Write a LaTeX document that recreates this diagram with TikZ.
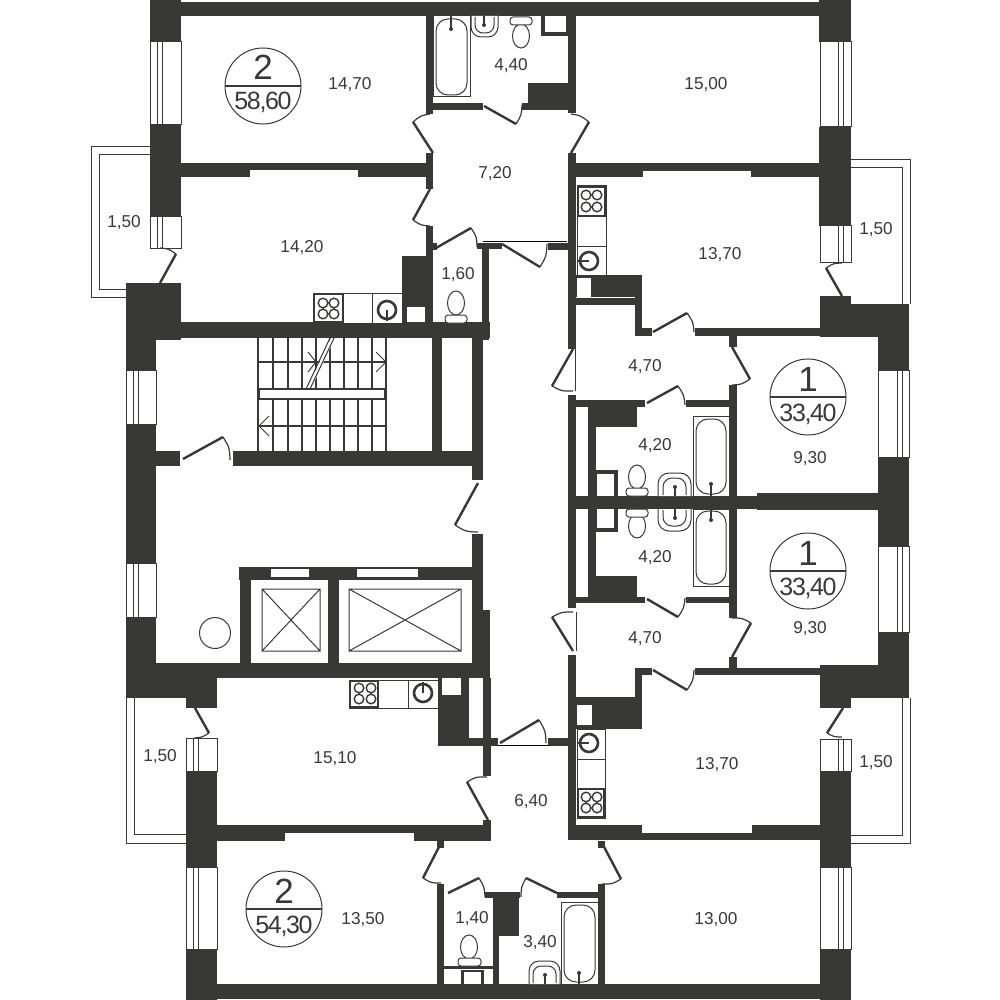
\documentclass[tikz,border=0pt]{standalone}
\usepackage{fontspec}
\setmainfont{Liberation Sans}
\usetikzlibrary{calc}
\definecolor{wallc}{HTML}{383836}
\newcommand{\doorfan}[3]{
  \draw[leaf] (#1) -- (#2);
  \draw[swing] (#2) .. controls ($(#1)!1.07!($(#2)!.5!(#3)$)$) .. (#3);
}

\begin{document}
\begin{tikzpicture}[x=1pt,y=-1pt,
  wall/.style={fill=wallc},
  frame/.style={draw=wallc,line width=1pt},
  fix/.style={draw=wallc,line width=1pt,fill=white},
  tread/.style={draw=wallc,line width=1.2pt},
  leaf/.style={draw=wallc,line width=2.4pt},
  swing/.style={draw=wallc,line width=1.2pt},
  rail/.style={draw=wallc,line width=1pt},
  hob/.style={draw=wallc,line width=1.4pt},
  sink/.style={draw=wallc,line width=2.6pt},
  area/.style={text=wallc,font=\fontsize{17.2}{17.2}\selectfont,inner sep=0pt,anchor=base},
  flatno/.style={text=wallc,font=\fontsize{35}{35}\selectfont,inner sep=0pt,anchor=base},
  flatsum/.style={text=wallc,font=\fontsize{25}{25}\addfontfeatures{LetterSpace=-5.5}\selectfont,inner sep=0pt,anchor=base}]

\useasboundingbox (0,0) rectangle (1000,1000);

% balconies
\draw[rail] (150,147) -- (91,147) -- (91,297) -- (126,297);
\draw[rail] (150,155) -- (99,155) -- (99,289) -- (126,289);
\draw[rail] (851,160) -- (910,160) -- (910,304);
\draw[rail] (851,168) -- (902,168) -- (902,304);
\draw[rail] (126,698) -- (126,843) -- (186,843);
\draw[rail] (134,698) -- (134,834) -- (186,834);
\draw[rail] (910,698) -- (910,843) -- (851,843);
\draw[rail] (902,698) -- (902,835) -- (851,835);

% outer walls
\fill[wall] (150,2) rectangle (851,16);
\fill[wall] (150,0) rectangle (181,42);
\fill[wall] (150,125) rectangle (181,217);
\fill[wall] (126,283) rectangle (181,340);
\fill[wall] (126,322) rectangle (490,338);
\fill[wall] (126,283) rectangle (156,370);
\fill[wall] (126,424) rectangle (156,563);
\fill[wall] (126,617) rectangle (156,678);
\fill[wall] (126,663) rectangle (490,678);
\fill[wall] (126,678) rectangle (217,698);
\fill[wall] (186,698) rectangle (217,708);
\fill[wall] (186,771) rectangle (217,867);
\fill[wall] (186,949) rectangle (217,1000);
\fill[wall] (186,984) rectangle (851,999);
\fill[wall] (819,0) rectangle (851,42);
\fill[wall] (819,127) rectangle (851,226);
\fill[wall] (820,296) rectangle (851,337);
\fill[wall] (851,304) rectangle (909,337);
\fill[wall] (878,337) rectangle (909,370);
\fill[wall] (878,457) rectangle (909,546);
\fill[wall] (878,632) rectangle (909,698);
\fill[wall] (820,665) rectangle (878,698);
\fill[wall] (820,698) rectangle (851,708);
\fill[wall] (820,771) rectangle (851,867);
\fill[wall] (820,949) rectangle (851,1000);

% upper flats
\fill[wall] (181,163) rectangle (433,170);
\fill[wall] (181,170) rectangle (250,177);
\fill[wall] (358,170) rectangle (433,177);
\fill[wall] (426,16) rectangle (433,114);
\fill[wall] (426,153) rectangle (433,189);
\fill[wall] (426,226) rectangle (433,330);
\fill[wall] (433,103) rectangle (483,110);
\fill[wall] (522,103) rectangle (568,110);
\fill[wall] (528,83) rectangle (568,103);
\fill[wall] (568,2) rectangle (576,113);
\fill[wall] (568,153) rectangle (576,349);
\fill[wall] (576,163) rectangle (820,171);
\fill[wall] (576,171) rectangle (643,177);
\fill[wall] (751,171) rectangle (820,177);
\fill[wall] (402,256) rectangle (426,323);
\fill[wall] (482,245) rectangle (489,340);
\fill[wall] (477,243) rectangle (502,249);
\fill[wall] (548,243) rectangle (568,250);
\fill[wall] (433,243) rectangle (437,250);
\fill[black] (483,241) rectangle (567,242);

% stair and lift core
\fill[wall] (432,338) rectangle (442,451);
\fill[wall] (472,338) rectangle (483,480);
\fill[wall] (472,534) rectangle (483,663);
\fill[wall] (483,610) rectangle (490,663);
\fill[wall] (156,451) rectangle (180,466);
\fill[wall] (233,451) rectangle (483,466);
\fill[wall] (239,567) rectangle (472,580);
\fill[wall] (240,567) rectangle (251,663);
\fill[wall] (328,567) rectangle (339,663);
\fill[white] (271,569) rectangle (309,577);
\fill[white] (357,569) rectangle (418,577);

% right middle flats
\fill[wall] (576,298) rectangle (642,305);
\fill[wall] (635,290) rectangle (642,336);
\fill[wall] (576,275) rectangle (642,297);
\fill[wall] (635,328) rectangle (652,336);
\fill[wall] (695,328) rectangle (820,336);
\fill[wall] (729,336) rectangle (737,347);
\fill[wall] (729,385) rectangle (737,496);
\fill[wall] (568,395) rectangle (576,608);
\fill[wall] (576,400) rectangle (645,407);
\fill[wall] (686,400) rectangle (729,407);
\fill[wall] (588,407) rectangle (596,496);
\fill[wall] (596,407) rectangle (637,427);
\fill[wall] (568,496) rectangle (878,509);
\fill[wall] (757,493) rectangle (878,510);
\fill[wall] (729,509) rectangle (737,618);
\fill[wall] (729,657) rectangle (737,668);
\fill[wall] (695,668) rectangle (820,675);
\fill[wall] (635,668) rectangle (652,675);
\fill[wall] (635,668) rectangle (642,705);
\fill[wall] (576,697) rectangle (642,705);
\fill[wall] (576,705) rectangle (642,729);
\fill[wall] (588,509) rectangle (596,597);
\fill[wall] (596,576) rectangle (637,597);
\fill[wall] (576,597) rectangle (645,603);
\fill[wall] (686,597) rectangle (729,603);

% lower flats
\fill[wall] (568,655) rectangle (576,840);
\fill[wall] (568,825) rectangle (642,840);
\fill[wall] (642,833) rectangle (752,840);
\fill[wall] (752,825) rectangle (820,840);
\fill[wall] (217,825) rectangle (491,833);
\fill[wall] (217,833) rectangle (285,841);
\fill[wall] (414,833) rectangle (491,841);
\fill[wall] (483,678) rectangle (491,776);
\fill[wall] (483,820) rectangle (491,841);
\fill[wall] (438,678) rectangle (469,746);
\fill[wall] (469,738) rectangle (498,746);
\fill[wall] (548,738) rectangle (568,746);
\fill[black] (498,745) rectangle (549,746);
\fill[wall] (437,841) rectangle (444,848);
\fill[wall] (437,884) rectangle (444,984);
\fill[wall] (598,841) rectangle (605,848);
\fill[wall] (598,884) rectangle (605,984);
\fill[wall] (485,892) rectangle (520,898);
\fill[wall] (557,892) rectangle (605,898);
\fill[wall] (493,898) rectangle (499,984);
\fill[wall] (499,898) rectangle (519,936);
\fill[wall] (444,966) rectangle (493,969);

% windows
\draw[fix] (150,42) rectangle (181,125);
\draw[frame] (157,42) -- (157,125) (162,42) -- (162,125);
\draw[fix] (150,217) rectangle (181,248);
\draw[frame] (157,217) -- (157,248) (162,217) -- (162,248);
\draw[fix] (126,370) rectangle (156,424);
\draw[frame] (133,370) -- (133,424) (138,370) -- (138,424);
\draw[fix] (126,563) rectangle (156,617);
\draw[frame] (133,563) -- (133,617) (138,563) -- (138,617);
\draw[fix] (186,738) rectangle (217,771);
\draw[frame] (193,738) -- (193,771) (198,738) -- (198,771);
\draw[fix] (186,867) rectangle (217,949);
\draw[frame] (193,867) -- (193,949) (198,867) -- (198,949);
\draw[fix] (820,42) rectangle (851,127);
\draw[frame] (838,42) -- (838,127) (843,42) -- (843,127);
\draw[fix] (820,226) rectangle (851,262);
\draw[frame] (838,226) -- (838,262) (843,226) -- (843,262);
\draw[fix] (878,370) rectangle (909,457);
\draw[frame] (897,370) -- (897,457) (902,370) -- (902,457);
\draw[fix] (878,546) rectangle (909,632);
\draw[frame] (897,546) -- (897,632) (902,546) -- (902,632);
\draw[fix] (820,739) rectangle (851,771);
\draw[frame] (838,739) -- (838,771) (843,739) -- (843,771);
\draw[fix] (820,867) rectangle (851,949);
\draw[frame] (838,867) -- (838,949) (843,867) -- (843,949);

% doors
\doorfan{433,153}{413,122}{430,114}
\doorfan{430,189}{413,220}{430,226}
\doorfan{436,248}{471,228}{477,247}
\doorfan{484,106}{516,124}{522,105}
\doorfan{571,153}{589,122}{571,114}
\doorfan{502,244}{540,267}{547,244}
\doorfan{160,283}{176,254}{160,248}
\doorfan{842,296}{826,268}{842,263}
\doorfan{653,332}{687,313}{694,332}
\doorfan{732,347}{750,379}{732,385}
\doorfan{573,349}{552,386}{573,391}
\doorfan{647,403}{678,386}{685,405}
\doorfan{183,459}{223,437}{230,460}
\doorfan{478,483}{455,525}{478,532}
\doorfan{573,651}{552,617}{573,612}
\doorfan{647,599}{678,617}{685,598}
\doorfan{653,670}{687,690}{694,670}
\doorfan{732,657}{751,623}{732,618}
\doorfan{195,708}{209,733}{194,738}
\doorfan{843,708}{827,733}{842,737}
\doorfan{500,743}{539,720}{546,743}
\doorfan{488,820}{467,782}{487,777}
\doorfan{441,843}{423,878}{441,883}
\doorfan{602,843}{621,879}{602,884}
\doorfan{448,893}{479,878}{485,897}
\doorfan{557,893}{526,878}{521,897}
\draw[rail] (575,349) -- (575,391);
\draw[rail] (576,612) -- (576,651);

% stairs
\draw[tread] (258,338) -- (258,451) (273,338) -- (273,451) (288,338) -- (288,451)
  (302,338) -- (302,451) (316,338) -- (316,451) (330,338) -- (330,451)
  (344,338) -- (344,451) (358,338) -- (358,451) (372,338) -- (372,451) (386,338) -- (386,451);
\draw[tread] (258,362) -- (386,362) (258,426) -- (386,426);
\fill[white] (331,338) -- (335,338) -- (311,389) -- (307,389) -- cycle;
\draw[frame] (330,338) -- (306,389) (334,338) -- (310,389);
\draw[fix,line width=1.4pt] (259,389) rectangle (385,399);
\draw[frame] (308,352) -- (316,362) -- (308,372);
\draw[frame] (376,352) -- (386,362) -- (376,372);
\draw[frame] (269,416) -- (259,426) -- (269,436);

% lifts
\draw[frame] (262,589) rectangle (320,651) (262,589) -- (320,651) (320,589) -- (262,651);
\draw[frame] (349,589) rectangle (461,651) (349,589) -- (461,651) (461,589) -- (349,651);
\draw[frame] (215,633) circle (15.5);

% kitchens
\draw[fix] (313,293) rectangle (402,323) (372,293) -- (372,323);
\draw[hob] (314,294) rectangle (343,322);
\draw[hob] (323,303) circle (4.8) (334,303) circle (4.8) (323,314) circle (4.8) (334,314) circle (4.8);
\draw[leaf] (387,321) -- (387,310);
\draw[sink] (387,310) circle (9);
\draw[fix] (577,186) rectangle (606,275) (577,246) -- (606,246);
\draw[hob] (578,187) rectangle (605,216);
\draw[hob] (586,195) circle (4.8) (597,195) circle (4.8) (586,207) circle (4.8) (597,207) circle (4.8);
\draw[leaf] (578,261) -- (589,261);
\draw[sink] (589,261) circle (9);
\draw[fix] (349,680) rectangle (438,708) (408,680) -- (408,708);
\draw[hob] (350,681) rectangle (378,707);
\draw[hob] (359,688) circle (4.8) (371,688) circle (4.8) (359,699) circle (4.8) (371,699) circle (4.8);
\draw[leaf] (423,682) -- (423,693);
\draw[sink] (423,693) circle (9);
\draw[fix] (577,729) rectangle (605,818) (577,759) -- (605,759);
\draw[hob] (578,789) rectangle (604,817);
\draw[hob] (586,797) circle (4.8) (597,797) circle (4.8) (586,808) circle (4.8) (597,808) circle (4.8);
\draw[leaf] (578,743) -- (589,743);
\draw[sink] (589,743) circle (9);

% vents
\fill[wall] (541,16) rectangle (568,36);
\fill[white] (545,16) rectangle (566,32);
\fill[white] (407,307) rectangle (425,322);
\fill[white] (577,278) rectangle (591,297);
\fill[wall] (596,470) rectangle (618,496);
\fill[white] (597,474) rectangle (614,496);
\fill[wall] (596,509) rectangle (618,532);
\fill[white] (597,509) rectangle (614,528);
\fill[white] (577,705) rectangle (592,725);
\fill[white] (442,678) rectangle (461,695);
\fill[wall] (461,970) rectangle (484,984);
\fill[white] (464,972) rectangle (481,984);

% baths
\draw[fix] (433,16) rectangle (470,97);
\draw[fix,rounded corners=12pt] (436,19) rectangle (467,95);
\draw[tread] (451,16) -- (451,29);
\fill[wallc] (451,29) circle (2);
\draw[fix] (693,416) rectangle (729,496);
\draw[fix,rounded corners=12pt] (696,419) rectangle (726,494);
\draw[tread] (711,496) -- (711,484);
\fill[wallc] (711,484) circle (2);
\draw[fix] (693,509) rectangle (729,586);
\draw[fix,rounded corners=12pt] (696,511) rectangle (726,584);
\draw[tread] (711,509) -- (711,520);
\fill[wallc] (711,520) circle (2);
\draw[fix] (561,902) rectangle (598,984);
\draw[fix,rounded corners=12pt] (564,905) rectangle (595,982);
\draw[tread] (579,984) -- (579,973);
\fill[wallc] (579,973) circle (2);

% basins
\draw[fix,rounded corners=10pt] (471,16) -- (471,37) -- (498,37) -- (498,16);
\draw[frame,rounded corners=8pt] (475,17) -- (475,33) -- (494,33) -- (494,17);
\draw[tread] (484,16) -- (484,25);
\fill[wallc] (484,25) circle (2);
\draw[fix,rounded corners=11pt] (658,496) -- (658,473) -- (691,473) -- (691,496);
\draw[frame,rounded corners=9pt] (663,495) -- (663,478) -- (686,478) -- (686,495);
\draw[tread] (675,496) -- (675,487);
\fill[wallc] (675,487) circle (2);
\draw[fix,rounded corners=11pt] (658,509) -- (658,531) -- (691,531) -- (691,509);
\draw[frame,rounded corners=9pt] (663,510) -- (663,526) -- (686,526) -- (686,510);
\draw[tread] (675,509) -- (675,518);
\fill[wallc] (675,518) circle (2);
\draw[fix,rounded corners=10pt] (529,984) -- (529,961) -- (560,961) -- (560,984);
\draw[frame,rounded corners=8pt] (533,983) -- (533,966) -- (556,966) -- (556,983);
\draw[tread] (545,984) -- (545,975);
\fill[wallc] (545,975) circle (2);

% toilets
\draw[fix] (521,36) ellipse (8.5 and 12);
\draw[fix,rounded corners=3pt] (510,17) rectangle (532,25);
\draw[fix] (456,303) ellipse (8.5 and 12);
\draw[fix,rounded corners=3pt] (445,315) rectangle (467,323);
\draw[fix] (637,477) ellipse (8.5 and 12);
\draw[fix,rounded corners=3pt] (626,488) rectangle (648,496);
\draw[fix] (637,526) ellipse (8.5 and 12);
\draw[fix,rounded corners=3pt] (626,509) rectangle (648,517);
\draw[fix] (469,947) ellipse (8.5 and 12);
\draw[fix,rounded corners=3pt] (458,958) rectangle (481,966);

% flat marks
\draw[frame] (263,86) circle (38);
\draw[leaf] (225,86) -- (301,86);
\node[flatno] (n1) at (263,80) {2};
\node[flatsum] (s1) at (263,110) {58,60};
\draw[frame] (808,397) circle (38);
\draw[leaf] (770,397) -- (846,397);
\node[flatno] (n2) at (808,391) {1};
\node[flatsum] (s2) at (808,421) {33,40};
\draw[frame] (808,571) circle (38);
\draw[leaf] (770,571) -- (846,571);
\node[flatno] (n3) at (808,565) {1};
\node[flatsum] (s3) at (808,595) {33,40};
\draw[frame] (284,909) circle (38);
\draw[leaf] (246,909) -- (322,909);
\node[flatno] (n4) at (284,903) {2};
\node[flatsum] (s4) at (284,933) {54,30};

% areas
\node[area] (a1) at (350,90) {14,70};
\node[area] (a2) at (511,71) {4,40};
\node[area] (a3) at (706,90) {15,00};
\node[area] (a4) at (495,179) {7,20};
\node[area] (a5) at (124,228) {1,50};
\node[area] (a6) at (302,252) {14,20};
\node[area] (a7) at (458,279) {1,60};
\node[area] (a8) at (720,259) {13,70};
\node[area] (a9) at (876,235) {1,50};
\node[area] (a10) at (645,371) {4,70};
\node[area] (a11) at (655,450) {4,20};
\node[area] (a12) at (810,463) {9,30};
\node[area] (a13) at (655,562) {4,20};
\node[area] (a14) at (810,633) {9,30};
\node[area] (a15) at (645,643) {4,70};
\node[area] (a16) at (335,763) {15,10};
\node[area] (a17) at (717,769) {13,70};
\node[area] (a18) at (160,761) {1,50};
\node[area] (a19) at (876,767) {1,50};
\node[area] (a20) at (531,806) {6,40};
\node[area] (a21) at (363,924) {13,50};
\node[area] (a22) at (472,923) {1,40};
\node[area] (a23) at (540,947) {3,40};
\node[area] (a24) at (716,924) {13,00};

\end{tikzpicture}
\end{document}
